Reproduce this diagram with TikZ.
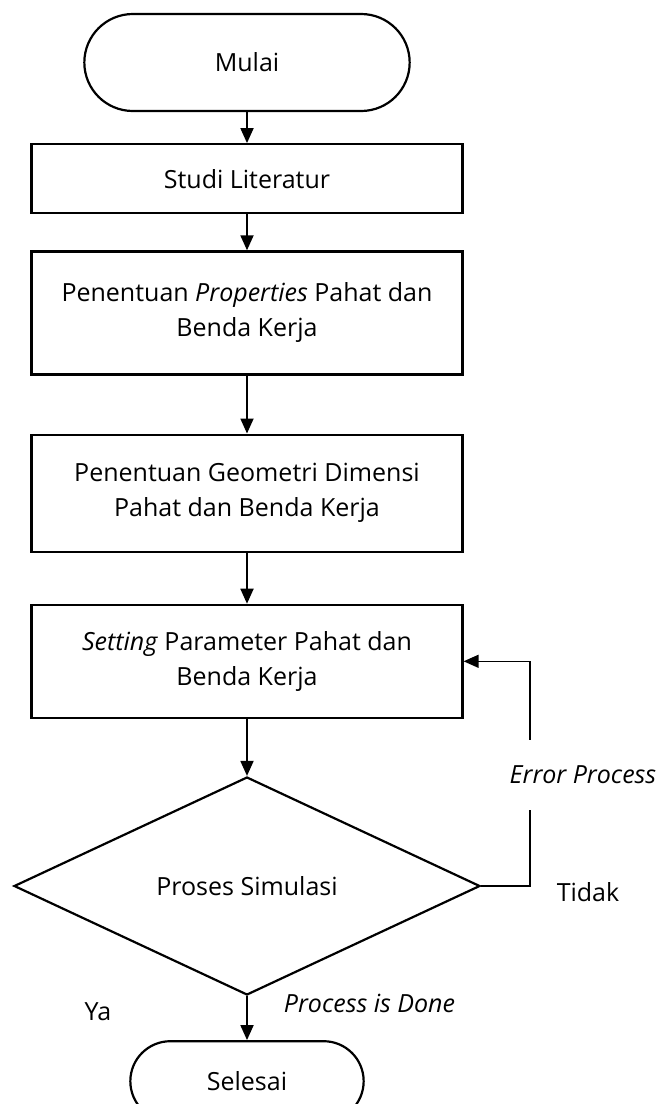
\documentclass[tikz,border=0pt]{standalone}
\usepackage{fontspec}
\setmainfont{Open Sans}
\usetikzlibrary{positioning,shapes.geometric,shapes.misc,arrows.meta}

\begin{document}
\begin{tikzpicture}[x=1pt,y=-1pt,>={Triangle[width=13pt,length=15pt]},line width=1.8pt,
	every node/.style={font=\fontsize{25}{35}\selectfont}]
	\useasboundingbox (0,0) rectangle (658,1104);
	
	% Define node styles
	\tikzstyle{terminal node} = [rounded rectangle, draw, line width=2.2pt, minimum width=332pt, minimum height=97pt]
	\tikzstyle{process node} = [rectangle, draw, line width=2.2pt, minimum width=431pt, align=center]
	\tikzstyle{decision node} = [diamond, draw, line width=2.2pt, minimum width=466pt, minimum height=218pt, inner sep=0pt]
	\tikzstyle{label node} = [inner sep=2pt]
	
	% Place nodes for the steps
	\node[terminal node] (mulai) at (247,62.5) {Mulai};
	\node[process node, minimum height=69pt] (studi) [below=31pt of mulai] {Studi Literatur};
	\node[process node, minimum height=123pt] (properties) [below=36pt of studi] {Penentuan \textit{Properties} Pahat dan\\Benda Kerja};
	\node[process node, minimum height=117pt] (geometri) [below=58pt of properties] {Penentuan Geometri Dimensi\\Pahat dan Benda Kerja};
	\node[process node, minimum height=113pt] (setting) [below=51pt of geometri] {\textit{Setting} Parameter Pahat dan\\Benda Kerja};
	\node[decision node] (simulasi) [below=57pt of setting] {Proses Simulasi};
	\node[terminal node, minimum width=240pt, minimum height=80pt] (selesai) [below=44pt of simulasi] {Selesai};
	
	% Draw edges between steps
	\foreach \source/\dest in {
		mulai/studi,
		studi/properties,
		properties/geometri,
		geometri/setting,
		setting/simulasi,
		simulasi/selesai}
	\path (\source) edge[->] (\dest);
	
	% Loop back when the simulation fails
	\draw[->, line width=1.4pt] (simulasi.east) -- ++(49,0) |- (setting.east);
	
	% Labels
	\node[label node, fill=white, minimum height=70pt, font=\fontsize{25}{35}\selectfont\itshape] (error) at (583,775) {Error Process};
	\node[label node] (tidak) at (588,892) {Tidak};
	\node[label node] (ya) at (98,1012) {Ya};
	\node[label node, anchor=west, font=\fontsize{25}{35}\selectfont\itshape] (done) at (281,1003) {Process is Done};
	
\end{tikzpicture}
\end{document}
